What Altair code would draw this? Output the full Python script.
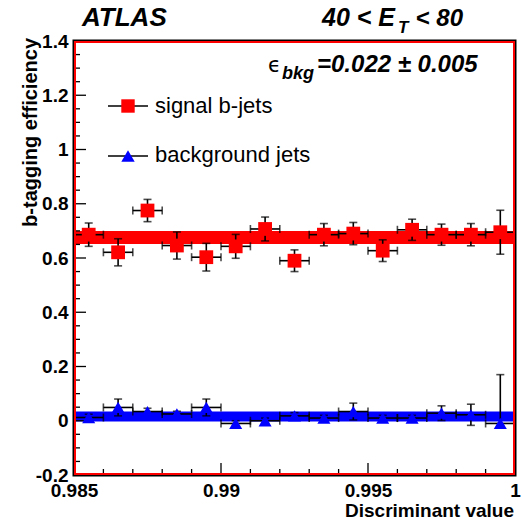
import altair as alt
import pandas as pd

# ---------------- data ----------------
x_center = [0.9855, 0.9865, 0.9875, 0.9885, 0.9895, 0.9905, 0.9915, 0.9925,
            0.9935, 0.9945, 0.9955, 0.9965, 0.9975, 0.9985, 0.9995]
x_lo = [0.985, 0.986, 0.987, 0.988, 0.989, 0.990, 0.991, 0.992,
        0.993, 0.994, 0.995, 0.996, 0.997, 0.998, 0.999]
x_hi = [0.986, 0.987, 0.988, 0.989, 0.990, 0.991, 0.992, 0.993,
        0.994, 0.995, 0.996, 0.997, 0.998, 0.999, 1.000]

sig = [0.686, 0.621, 0.775, 0.646, 0.603, 0.643, 0.707, 0.590,
       0.686, 0.690, 0.627, 0.704, 0.686, 0.686, 0.695]
sig_err = [0.043, 0.050, 0.041, 0.050, 0.051, 0.044, 0.044, 0.040,
           0.041, 0.041, 0.040, 0.039, 0.039, 0.041, 0.081]

bkg = [0.012, 0.049, 0.034, 0.025, 0.049, -0.010, 0.000, 0.018,
       0.010, 0.034, 0.010, 0.010, 0.028, 0.022, -0.010]
bkg_err_up = [0.012, 0.031, 0.012, 0.010, 0.031, 0.010, 0.010, 0.012,
              0.010, 0.031, 0.010, 0.010, 0.027, 0.039, 0.180]
bkg_err_dn = [0.012, 0.031, 0.012, 0.010, 0.031, 0.010, 0.010, 0.012,
              0.010, 0.031, 0.010, 0.010, 0.027, 0.039, 0.010]

sig_fit = [0.676]
bkg_fit = [0.016]

x_major = [0.985, 0.99, 0.995, 1.0]
x_minor = [0.986, 0.987, 0.988, 0.989, 0.991, 0.992, 0.993, 0.994,
           0.996, 0.997, 0.998, 0.999]
y_major = [-0.2, 0.0, 0.2, 0.4, 0.6, 0.8, 1.0, 1.2, 1.4]
y_minor = [-0.15, -0.1, -0.05, 0.05, 0.1, 0.15, 0.25, 0.3, 0.35, 0.45, 0.5, 0.55,
           0.65, 0.7, 0.75, 0.85, 0.9, 0.95, 1.05, 1.1, 1.15, 1.25, 1.3, 1.35]

legend_labels = ["signal b-jets", "background jets"]

# ---------------- layout ----------------
W, H = 441, 434
FONT = "Liberation Sans"

xs = alt.Scale(domain=[0.985, 1.0], nice=False, zero=False)
ys = alt.Scale(domain=[-0.2, 1.4], nice=False, zero=False)

xaxis = alt.Axis(values=x_major, format="~g", ticks=False, tickSize=0, domain=False,
                 grid=False, labelFont=FONT, labelFontSize=19, labelFontWeight="bold",
                 labelColor="black", labelPadding=6, title=None, labelFlush=False,
                 labelOverlap=False)
yaxis = alt.Axis(values=y_major,
                 labelExpr="datum.value < 0 ? '-' + format(-datum.value, '~g') : format(datum.value, '~g')",
                 ticks=False, tickSize=0, domain=False, grid=False, labelFont=FONT,
                 labelFontSize=19, labelFontWeight="bold", labelColor="black",
                 labelPadding=6, title=None, labelFlush=False, labelOverlap=False)

sig_df = pd.DataFrame({"x": x_center, "lo": x_lo, "hi": x_hi, "y": sig,
                       "ylo": [v - e for v, e in zip(sig, sig_err)],
                       "yhi": [v + e for v, e in zip(sig, sig_err)]})
bkg_df = pd.DataFrame({"x": x_center, "lo": x_lo, "hi": x_hi, "y": bkg,
                       "ylo": [v - e for v, e in zip(bkg, bkg_err_dn)],
                       "yhi": [v + e for v, e in zip(bkg, bkg_err_up)]})

LW = 1.6


def X(f):
    return alt.X(f, scale=xs, axis=xaxis)


def Y(f):
    return alt.Y(f, scale=ys, axis=yaxis)


def errbars(df):
    base = alt.Chart(df)
    return [
        base.mark_rule(color="black", strokeWidth=LW).encode(x=X("lo:Q"), x2="hi:Q", y=Y("y:Q")),
        base.mark_tick(orient="vertical", size=8, thickness=LW, color="black").encode(x=X("lo:Q"), y=Y("y:Q")),
        base.mark_tick(orient="vertical", size=8, thickness=LW, color="black").encode(x=X("hi:Q"), y=Y("y:Q")),
        base.mark_rule(color="black", strokeWidth=LW).encode(x=X("x:Q"), y=Y("ylo:Q"), y2="yhi:Q"),
        base.mark_tick(orient="horizontal", size=8, thickness=LW, color="black").encode(x=X("x:Q"), y=Y("ylo:Q")),
        base.mark_tick(orient="horizontal", size=8, thickness=LW, color="black").encode(x=X("x:Q"), y=Y("yhi:Q")),
    ]


def txt(s, x, y, size, weight="normal", style="normal", align="left",
        baseline="alphabetic", angle=0, font=FONT):
    return alt.Chart(pd.DataFrame({"t": [s]})).mark_text(
        align=align, baseline=baseline, fontSize=size, fontWeight=weight,
        fontStyle=style, font=font, angle=angle, color="black"
    ).encode(x=alt.value(x), y=alt.value(y), text="t:N")


one = pd.DataFrame({"a": [0]})

layers = []

# fit bands
layers.append(alt.Chart(pd.DataFrame({"y": sig_fit})).mark_rule(color="#ff0000", strokeWidth=13).encode(y=Y("y:Q")))
layers.append(alt.Chart(pd.DataFrame({"y": bkg_fit})).mark_rule(color="#0000ff", strokeWidth=10).encode(y=Y("y:Q")))

# axis ticks (inward)
layers.append(alt.Chart(pd.DataFrame({"v": x_major})).mark_rule(color="black", strokeWidth=1.3).encode(
    x=X("v:Q"), y=alt.value(H), y2=alt.value(H - 12)))
layers.append(alt.Chart(pd.DataFrame({"v": x_minor})).mark_rule(color="black", strokeWidth=1.3).encode(
    x=X("v:Q"), y=alt.value(H), y2=alt.value(H - 6)))
layers.append(alt.Chart(pd.DataFrame({"v": y_major})).mark_rule(color="black", strokeWidth=1.3).encode(
    y=Y("v:Q"), x=alt.value(0), x2=alt.value(12)))
layers.append(alt.Chart(pd.DataFrame({"v": y_minor})).mark_rule(color="black", strokeWidth=1.3).encode(
    y=Y("v:Q"), x=alt.value(0), x2=alt.value(6)))

# error bars + markers
layers += errbars(sig_df)
layers += errbars(bkg_df)
layers.append(alt.Chart(sig_df).mark_point(shape="square", filled=True, color="#ff0000", size=190, opacity=1).encode(
    x=X("x:Q"), y=Y("y:Q")))
layers.append(alt.Chart(bkg_df).mark_point(shape="triangle-up", filled=True, color="#0000ff", size=170, opacity=1).encode(
    x=X("x:Q"), y=Y("y:Q")))

# red frame inside the black one
layers.append(alt.Chart(one).mark_rect(fillOpacity=0, stroke="#ff0000", strokeWidth=2).encode(
    x=alt.value(1), x2=alt.value(W - 1), y=alt.value(1), y2=alt.value(H - 1)))

# legend
layers.append(alt.Chart(one).mark_rule(color="black", strokeWidth=LW).encode(
    x=alt.value(34), x2=alt.value(74), y=alt.value(65)))
layers.append(alt.Chart(one).mark_rule(color="black", strokeWidth=LW).encode(
    x=alt.value(34), x2=alt.value(74), y=alt.value(115)))
layers.append(alt.Chart(one).mark_point(shape="square", filled=True, color="#ff0000", size=180, opacity=1).encode(
    x=alt.value(54), y=alt.value(65)))
layers.append(alt.Chart(one).mark_point(shape="triangle-up", filled=True, color="#0000ff", size=180, opacity=1).encode(
    x=alt.value(54), y=alt.value(115)))
layers.append(txt(legend_labels[0], 81, 72, 22))
layers.append(txt(legend_labels[1], 81, 121, 22))

# titles / annotations
layers.append(txt("ATLAS", 8, -15, 26, weight="bold", style="italic"))
layers.append(txt("40 < E", 248, -15, 25, weight="bold", style="italic"))
layers.append(txt("T", 324, -8, 17, weight="bold", style="italic"))
layers.append(txt("< 80", 389, -15, 24, weight="bold", style="italic", align="right"))
layers.append(txt("\u03f5", 194, 31, 21, font="DejaVu Sans"))
layers.append(txt("bkg", 208, 38, 18, weight="bold", style="italic"))
layers.append(txt("=0.022 \u00b1 0.005", 243, 31, 24, weight="bold", style="italic"))
layers.append(txt("b-tagging efficiency", -43, -3, 20, weight="bold", align="right",
                  baseline="middle", angle=270))
layers.append(txt("Discriminant value", 440, 476, 19, weight="bold", align="right"))

chart = alt.layer(*layers).properties(
    width=W, height=H,
    padding={"left": 74, "top": 41, "right": 7, "bottom": 45},
    autosize=alt.AutoSizeParams(type="none"),
    background="white",
).configure_view(stroke="black", strokeWidth=3)

chart.save("out.html", embed_options={"renderer": "svg", "actions": False})
